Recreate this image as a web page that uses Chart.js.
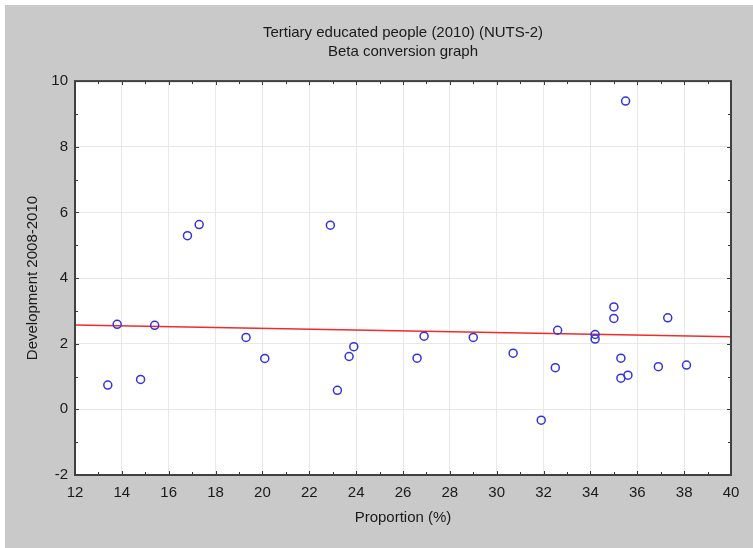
<!DOCTYPE html>
<html>
<head>
<meta charset="utf-8">
<script src="https://cdn.jsdelivr.net/npm/chart.js@4"></script>
<style>
  body { margin: 0; background: #ffffff; }
  #wrap { position: absolute; left: 5px; top: 5px; width: 748px; height: 543px; }
</style>
</head>
<body>
<div id="wrap"><canvas id="betaChart" width="748" height="543"></canvas></div>
<script>
// Values
const proportion = [13.4, 13.8, 14.8, 15.4, 16.8, 17.3, 19.3, 20.1, 22.9, 23.2,
  23.7, 23.9, 26.6, 26.9, 29.0, 30.7, 31.9, 32.5, 32.6, 34.2,
  34.2, 35.0, 35.0, 35.3, 35.3, 35.6, 35.5, 36.9, 37.3, 38.1];
const development = [0.74, 2.59, 0.91, 2.56, 5.29, 5.63, 2.19, 1.55, 5.61, 0.58,
  1.61, 1.91, 1.56, 2.23, 2.19, 1.71, -0.33, 1.27, 2.41, 2.28,
  2.14, 3.12, 2.77, 1.56, 0.95, 1.04, 9.39, 1.30, 2.79, 1.35];
const fitX = [12, 40];
const fitY = [2.57, 2.21];
const xTicks = { min: 12, max: 40, step: 2 };
const yTicks = { min: -2, max: 10, step: 2 };

const points = proportion.map((x, i) => ({ x: x, y: development[i] }));
const fitLine = fitX.map((x, i) => ({ x: x, y: fitY[i] }));

// gray page behind, white plot area, frame and inward ticks like the original
const framePlugin = {
  id: "frame",
  afterLayout(chart) {
    // center the two title lines over the plot area, not the whole canvas
    if (chart.titleBlock) {
      chart.titleBlock.left = chart.chartArea.left;
      chart.titleBlock.right = chart.chartArea.right;
    }
  },
  beforeDraw(chart) {
    const { ctx, chartArea: a } = chart;
    ctx.save();
    ctx.fillStyle = "#c9c9c9";
    ctx.fillRect(0, 0, chart.width, chart.height);
    ctx.fillStyle = "#ffffff";
    ctx.fillRect(a.left, a.top, a.right - a.left, a.bottom - a.top);
    ctx.restore();
  },
  afterDraw(chart) {
    const { ctx, chartArea: a, scales } = chart;
    ctx.save();
    ctx.strokeStyle = "#3a3a3a";
    ctx.lineWidth = 1;
    ctx.beginPath();
    for (let v = xTicks.min + 1; v < xTicks.max; v++) {
      const px = Math.round(scales.x.getPixelForValue(v)) + 0.5;
      const len = v % 2 === 0 ? 4 : 3;
      ctx.moveTo(px, a.bottom); ctx.lineTo(px, a.bottom - len);
      ctx.moveTo(px, a.top); ctx.lineTo(px, a.top + len);
    }
    for (let v = yTicks.min + 1; v < yTicks.max; v++) {
      const py = Math.round(scales.y.getPixelForValue(v)) + 0.5;
      const len = v % 2 === 0 ? 4 : 3;
      ctx.moveTo(a.left, py); ctx.lineTo(a.left + len, py);
      ctx.moveTo(a.right, py); ctx.lineTo(a.right - len, py);
    }
    ctx.stroke();
    ctx.lineWidth = 2;
    ctx.strokeStyle = "#404040";
    ctx.strokeRect(a.left, a.top, a.right - a.left, a.bottom - a.top);
    ctx.restore();
  }
};

const font = "'Liberation Sans', Arial, sans-serif";

new Chart(document.getElementById("betaChart"), {
  type: "scatter",
  data: {
    datasets: [
      {
        label: "Regions",
        data: points,
        pointStyle: "circle",
        pointRadius: 4,
        pointBorderWidth: 1.5,
        pointBorderColor: "#3333dd",
        pointBackgroundColor: "rgba(0,0,0,0)",
        showLine: false
      },
      {
        type: "line",
        label: "Fit",
        data: fitLine,
        borderColor: "#f42a2a",
        borderWidth: 1.5,
        pointRadius: 0,
        fill: false
      }
    ]
  },
  options: {
    responsive: false,
    animation: false,
    layout: { padding: { left: 0, right: 22, top: 0, bottom: 0 } },
    plugins: {
      legend: { display: false },
      tooltip: { enabled: false },
      title: {
        display: true,
        text: ["Tertiary educated people (2010) (NUTS-2)", "Beta conversion graph"],
        color: "#1a1a1a",
        font: { family: font, size: 15, weight: "normal", lineHeight: 1.27 },
        padding: { top: 18, bottom: 20 }
      }
    },
    scales: {
      x: {
        type: "linear",
        min: xTicks.min,
        max: xTicks.max,
        ticks: {
          stepSize: xTicks.step,
          color: "#1a1a1a",
          font: { family: font, size: 15 },
          padding: 9,
          maxRotation: 0
        },
        grid: { color: "#e8e8e8", drawTicks: false },
        border: { display: false },
        title: {
          display: true,
          text: "Proportion (%)",
          color: "#1a1a1a",
          font: { family: font, size: 15 },
          padding: { top: 0, bottom: 21 }
        },
        afterFit(scale) { scale.height = 73; }
      },
      y: {
        type: "linear",
        min: yTicks.min,
        max: yTicks.max,
        ticks: {
          stepSize: yTicks.step,
          color: "#1a1a1a",
          font: { family: font, size: 15 },
          padding: 7
        },
        grid: { color: "#e8e8e8", drawTicks: false },
        border: { display: false },
        title: {
          display: true,
          text: "Development 2008-2010",
          color: "#1a1a1a",
          font: { family: font, size: 15 },
          padding: { top: 19, bottom: 0 }
        },
        afterFit(scale) { scale.width = 70; }
      }
    }
  },
  plugins: [framePlugin]
});
</script>
</body>
</html>
